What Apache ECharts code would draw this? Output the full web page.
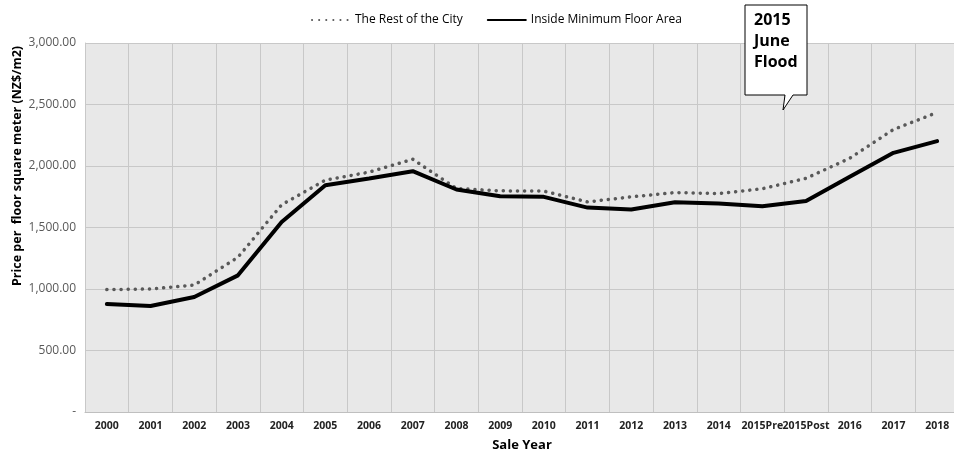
<!DOCTYPE html>
<html><head><meta charset="utf-8">
<script src="https://cdn.jsdelivr.net/npm/echarts@6/dist/echarts.min.js"></script>
<style>html,body{margin:0;padding:0;background:#fff}#c{width:954px;height:452px}</style>
</head><body><div id="c"></div>
<script>
const categories = ['2000','2001','2002','2003','2004','2005','2006','2007','2008','2009','2010','2011','2012','2013','2014','2015Pre','2015Post','2016','2017','2018'];
const restOfCity = [995, 1000, 1032, 1258, 1685, 1885, 1950, 2055, 1817, 1798, 1796, 1708, 1749, 1784, 1776, 1815, 1900, 2063, 2297, 2435];
const insideMinFloor = [878, 862, 935, 1111, 1545, 1844, 1898, 1958, 1809, 1754, 1749, 1662, 1646, 1706, 1695, 1673, 1716, 1912, 2107, 2202];
const yTicks = [0, 500, 1000, 1500, 2000, 2500, 3000];

const font = 'Open Sans, Noto Sans, sans-serif';
const chart = echarts.init(document.getElementById('c'), null, {renderer: 'canvas'});
chart.setOption({
  animation: false,
  textStyle: {fontFamily: font},
  legend: {
    top: 9, left: 306,
    itemWidth: 38, itemHeight: 10, itemGap: 24,
    itemStyle: {opacity: 0},
    textStyle: {fontFamily: font, fontSize: 12, color: '#000'},
    data: ['The Rest of the City', 'Inside Minimum Floor Area']
  },
  grid: {left: 85, top: 43, width: 874, height: 369, show: true, backgroundColor: '#e8e8e8', borderWidth: 0, outerBoundsMode: 'none', containLabel: false},
  xAxis: {
    type: 'category', data: categories, boundaryGap: true,
    name: 'Sale Year', nameLocation: 'middle', nameGap: 27,
    nameTextStyle: {fontFamily: font, fontWeight: 'bold', fontSize: 13, color: '#000'},
    axisLine: {show: true, lineStyle: {color: '#bfbfbf', width: 1}},
    axisTick: {show: false},
    axisLabel: {fontFamily: font, fontWeight: 'bold', fontSize: 10.5, color: '#222', margin: 9, interval: 0},
    splitLine: {show: true, interval: 0, lineStyle: {color: '#c8c8c8', width: 1}}
  },
  yAxis: {
    type: 'value', min: 0, max: 3000, interval: 500,
    axisLine: {show: true, lineStyle: {color: '#c8c8c8'}},
    axisTick: {show: false},
    axisLabel: {fontFamily: font, fontSize: 12, color: '#595959', margin: 9,
      formatter: v => yTicks.includes(v) ? (v === 0 ? '-' : v.toLocaleString('en-US', {minimumFractionDigits: 2, maximumFractionDigits: 2})) : ''},
    splitLine: {show: true, lineStyle: {color: '#c8c8c8', width: 1}}
  },
  series: [
    {name: 'The Rest of the City', type: 'line', data: restOfCity, symbol: 'none',
     lineStyle: {color: '#595959', width: 3.5, type: [0.1, 7], cap: 'round'}, itemStyle: {color: '#595959'}},
    {name: 'Inside Minimum Floor Area', type: 'line', data: insideMinFloor, symbol: 'none',
     lineStyle: {color: '#000', width: 4, cap: 'round'}, itemStyle: {color: '#000'}}
  ],
  graphic: [
    {type: 'text', x: 17, y: 166, rotation: Math.PI / 2,
     style: {text: 'Price per  floor square meter (NZ$/m2)', fontFamily: font, fontWeight: 'bold', fontSize: 12.5, fill: '#000', align: 'center', verticalAlign: 'middle'}},
    {type: 'polygon', shape: {points: [[745,5],[807,5],[807,95],[793,95],[783,110],[785,95],[745,95]]},
     style: {fill: '#fff', stroke: '#000', lineWidth: 1}, z: 100},
    {type: 'text', left: 754, top: 10, z: 101,
     style: {text: '2015\nJune\nFlood', fontFamily: font, fontWeight: 'bold', fontSize: 16, lineHeight: 21, fill: '#000'}}
  ]
});
</script></body></html>
